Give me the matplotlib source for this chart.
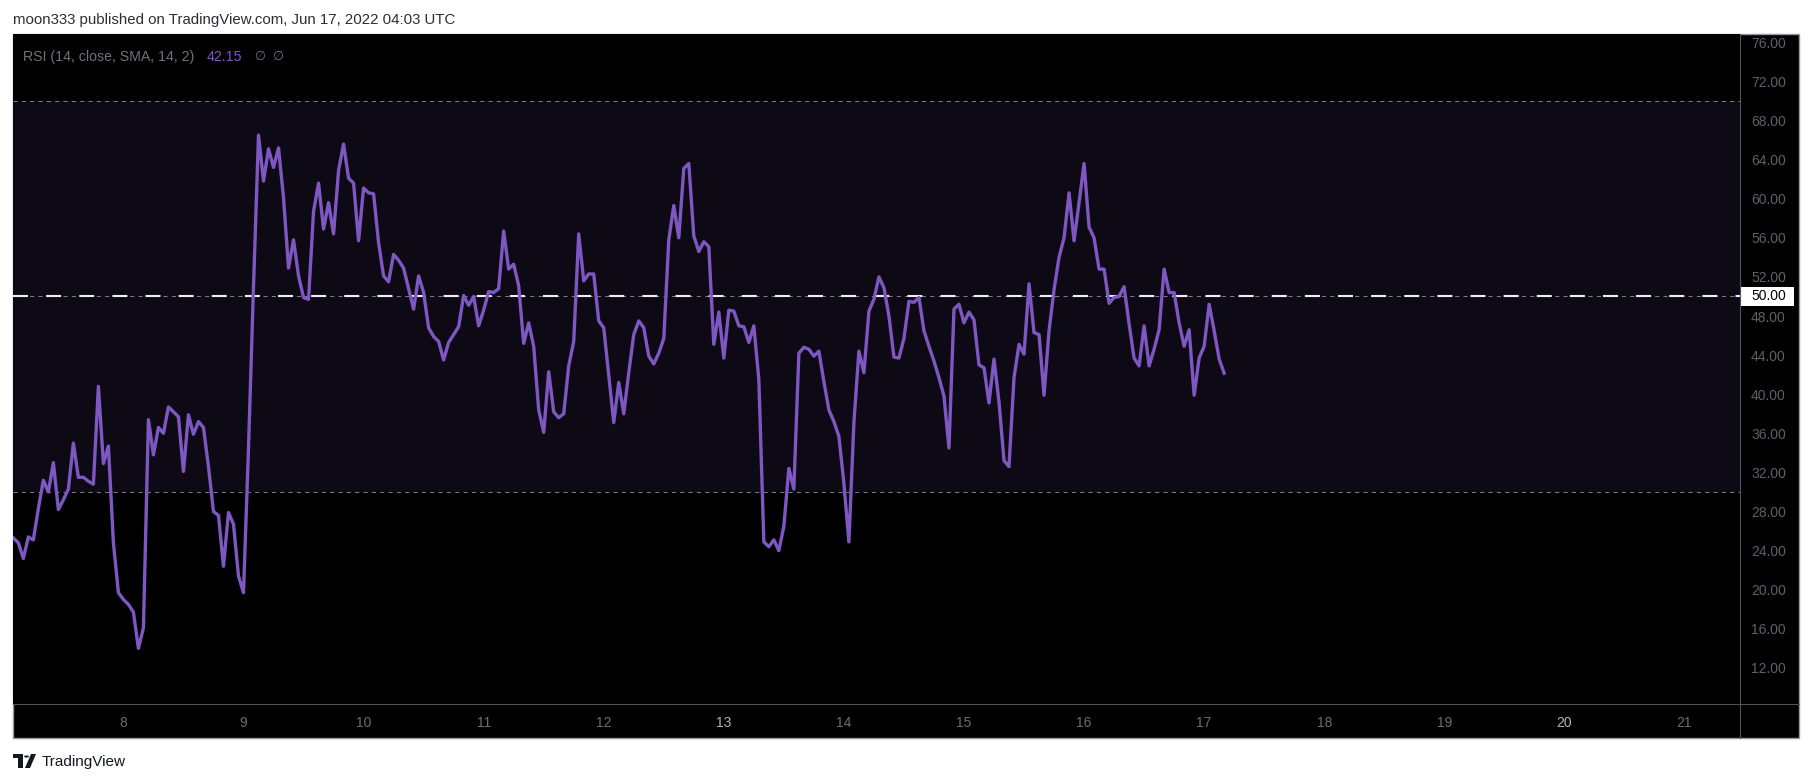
import pandas as pd
import matplotlib
matplotlib.use("Agg")
import matplotlib.pyplot as plt
import matplotlib.transforms as mtransforms
from matplotlib.patches import Rectangle, Circle, Polygon
from matplotlib.lines import Line2D

# --------------------------------------------------
# Daten (RSI, stündlich)
# --------------------------------------------------

rsi_jun07 = [25.3, 24.8, 23.2, 25.4, 25.1, 28.3, 31.2, 30.0, 33.0, 28.2, 29.2,
             30.3, 35.0, 31.5, 31.5, 31.1, 30.8, 40.8, 32.9, 34.7, 24.8, 19.7]
rsi_jun08 = [19.0, 18.5, 17.7, 14.0, 16.1, 37.4, 33.8, 36.6, 36.0, 38.7, 38.2, 37.7,
             32.1, 37.9, 35.9, 37.2, 36.6, 32.6, 28.0, 27.6, 22.4, 27.9, 26.7, 21.4]
rsi_jun09 = [19.7, 34.5, 51.0, 66.5, 61.8, 65.1, 63.2, 65.2, 60.1, 52.9, 55.8, 52.1,
             49.9, 49.7, 58.7, 61.6, 56.9, 59.6, 56.4, 62.9, 65.6, 62.1, 61.6, 55.7]
rsi_jun10 = [61.1, 60.6, 60.5, 55.5, 52.1, 51.5, 54.3, 53.7, 52.9, 50.8, 48.7, 52.1,
             50.4, 46.8, 45.9, 45.4, 43.5, 45.3, 46.1, 46.9, 50.1, 49.1, 50.0, 47.0]
rsi_jun11 = [48.6, 50.5, 50.4, 50.8, 56.7, 52.8, 53.3, 51.1, 45.2, 47.3, 44.9, 38.4,
             36.1, 42.3, 38.2, 37.6, 38.0, 42.9, 45.4, 56.4, 51.6, 52.3, 52.3, 47.5]
rsi_jun12 = [46.8, 42.0, 37.1, 41.2, 38.0, 42.2, 46.1, 47.5, 46.8, 43.9, 43.1, 44.2,
             45.7, 55.8, 59.3, 56.0, 63.1, 63.6, 56.2, 54.6, 55.6, 55.1, 45.1, 48.4]
rsi_jun13 = [43.7, 48.6, 48.5, 47.0, 46.9, 45.3, 47.0, 41.5, 24.9, 24.4, 25.1, 24.0,
             26.5, 32.4, 30.3, 44.2, 44.8, 44.6, 43.9, 44.4, 41.3, 38.4, 37.2, 35.7]
rsi_jun14 = [30.9, 24.9, 37.1, 44.4, 42.2, 48.5, 49.7, 52.0, 50.9, 48.0, 43.8, 43.7,
             45.7, 49.5, 49.4, 49.9, 46.5, 44.9, 43.4, 41.7, 39.8, 34.5, 48.7, 49.2]
rsi_jun15 = [47.3, 48.4, 47.6, 43.0, 42.7, 39.1, 43.6, 39.2, 33.2, 32.6, 41.7, 45.1,
             44.1, 51.3, 46.3, 46.1, 39.9, 46.5, 50.7, 54.0, 56.0, 60.6, 55.7, 59.6]
rsi_jun16 = [63.6, 57.1, 56.0, 52.8, 52.8, 49.3, 49.9, 50.0, 51.0, 47.2, 43.7, 42.9,
             47.0, 42.9, 44.6, 46.6, 52.8, 50.4, 50.4, 47.3, 44.9, 46.6, 39.9, 43.7]
rsi_jun17 = [44.9, 49.2, 46.5, 43.6, 42.15]

rsi = (rsi_jun07 + rsi_jun08 + rsi_jun09 + rsi_jun10 + rsi_jun11 + rsi_jun12
       + rsi_jun13 + rsi_jun14 + rsi_jun15 + rsi_jun16 + rsi_jun17)
times = pd.date_range("2022-06-07 02:00", periods=len(rsi), freq="h")

day_ticks = pd.date_range("2022-06-08", "2022-06-21", freq="D")
day_labels = [str(d.day) for d in day_ticks]
week_start_labels = ["13", "20"]
y_ticks = list(range(12, 77, 4))

upper_band = 70
middle_band = 50
lower_band = 30
last_value = 42.15

header = "moon333 published on TradingView.com, Jun 17, 2022 04:03 UTC"
legend_title = "RSI (14, close, SMA, 14, 2)"

# --------------------------------------------------
# Figur
# --------------------------------------------------

W, H = 1813, 783
plt.rcParams["font.family"] = ["Liberation Sans", "DejaVu Sans"]

fig = plt.figure(figsize=(W / 100, H / 100), dpi=100, facecolor="white")


def fx(x):
    return x / W


def fy(y):
    return 1 - y / H


# schwarzes Panel mit Rahmen
fig.add_artist(Rectangle((fx(13), fy(738)), fx(1799) - fx(13), fy(34) - fy(738),
                         transform=fig.transFigure, facecolor="black",
                         edgecolor="#9598a1", lw=1, zorder=-2))

ax = fig.add_axes([fx(13), fy(704), fx(1740) - fx(13), fy(34) - fy(704)])
ax.set_facecolor("black")
for s in ax.spines.values():
    s.set_visible(False)

# Trennlinien Achsenbereich
fig.add_artist(Line2D([fx(1740), fx(1740)], [fy(34), fy(738)], transform=fig.transFigure,
                      color="#50535e", lw=0.8, zorder=5))
fig.add_artist(Line2D([fx(13), fx(1799)], [fy(704), fy(704)], transform=fig.transFigure,
                      color="#50535e", lw=0.8, zorder=5))

# Band 30-70
ax.axhspan(lower_band, upper_band, color="#0d0a15", lw=0, zorder=0.5)
for lvl in [upper_band, middle_band, lower_band]:
    ax.axhline(lvl, color="#787b86", lw=0.75, ls=(0, (4, 4)), zorder=1)
ax.axhline(middle_band, color="#f0ecf8", lw=1.5, ls=(0, (7.2, 8.7)), zorder=1.5)

ax.plot(times, rsi, color="#7e57c2", lw=2.4, zorder=3)

ax.set_xlim(times[0] - pd.Timedelta(minutes=4), times[0] + pd.Timedelta(hours=345.1))
ax.set_ylim(8.31, 76.85)

# y-Achse rechts
ax.yaxis.tick_right()
ax.set_yticks(y_ticks)
ax.set_yticklabels([f"{v:.2f}" for v in y_ticks])
ax.tick_params(axis="y", length=0, pad=8, labelsize=10, labelcolor="#5d606b")

# x-Achse
ax.set_xticks(day_ticks)
ax.set_xticklabels(day_labels)
ax.tick_params(axis="x", length=0, pad=8.5, labelsize=10, labelcolor="#6a6d78")
for lab in ax.get_xticklabels():
    if lab.get_text() in week_start_labels:
        lab.set_color("#b2b5be")

# Label 50.00
trans = mtransforms.blended_transform_factory(ax.transAxes, ax.transData)
ax.add_patch(Rectangle((1.0006, middle_band - 0.97), 0.0307, 1.94, transform=trans,
                       facecolor="white", edgecolor="none", clip_on=False, zorder=6))
ax.text(1.0168, middle_band, f"{middle_band:.2f}", transform=trans, ha="center",
        va="center", fontsize=10, color="black", zorder=7, clip_on=False)

# Texte
fig.text(fx(13), fy(20), header, ha="left", va="center", fontsize=10.8, color="#2a2e39")
fig.text(fx(23), fy(57), legend_title, ha="left", va="center", fontsize=10.2, color="#6f727c")
fig.text(fx(207), fy(57), f"{last_value:.2f}", ha="left", va="center", fontsize=10.2,
         color="#7e57c2")
fig.text(fx(254), fy(57), "\u2205", ha="left", va="center", fontsize=9, color="#6f727c")
fig.text(fx(272), fy(57), "\u2205", ha="left", va="center", fontsize=9, color="#6f727c")

# Logo unten links
logo_color = "#131722"
fig.add_artist(Polygon([(fx(13), fy(754)), (fx(23), fy(754)), (fx(23), fy(768)),
                        (fx(18), fy(768)), (fx(18), fy(758)), (fx(13), fy(758))],
                       closed=True, transform=fig.transFigure, facecolor=logo_color,
                       edgecolor="none"))
fig.add_artist(Circle((fx(26.5), fy(756.5)), 2.4 / W, transform=fig.transFigure,
                      facecolor=logo_color, edgecolor="none"))
fig.add_artist(Polygon([(fx(25), fy(768)), (fx(30), fy(768)), (fx(36), fy(754)),
                        (fx(31), fy(754))], closed=True, transform=fig.transFigure,
                       facecolor=logo_color, edgecolor="none"))
fig.text(fx(42), fy(762), "TradingView", ha="left", va="center", fontsize=11,
         color=logo_color)

fig.savefig("out.png", dpi=100, facecolor="white")
